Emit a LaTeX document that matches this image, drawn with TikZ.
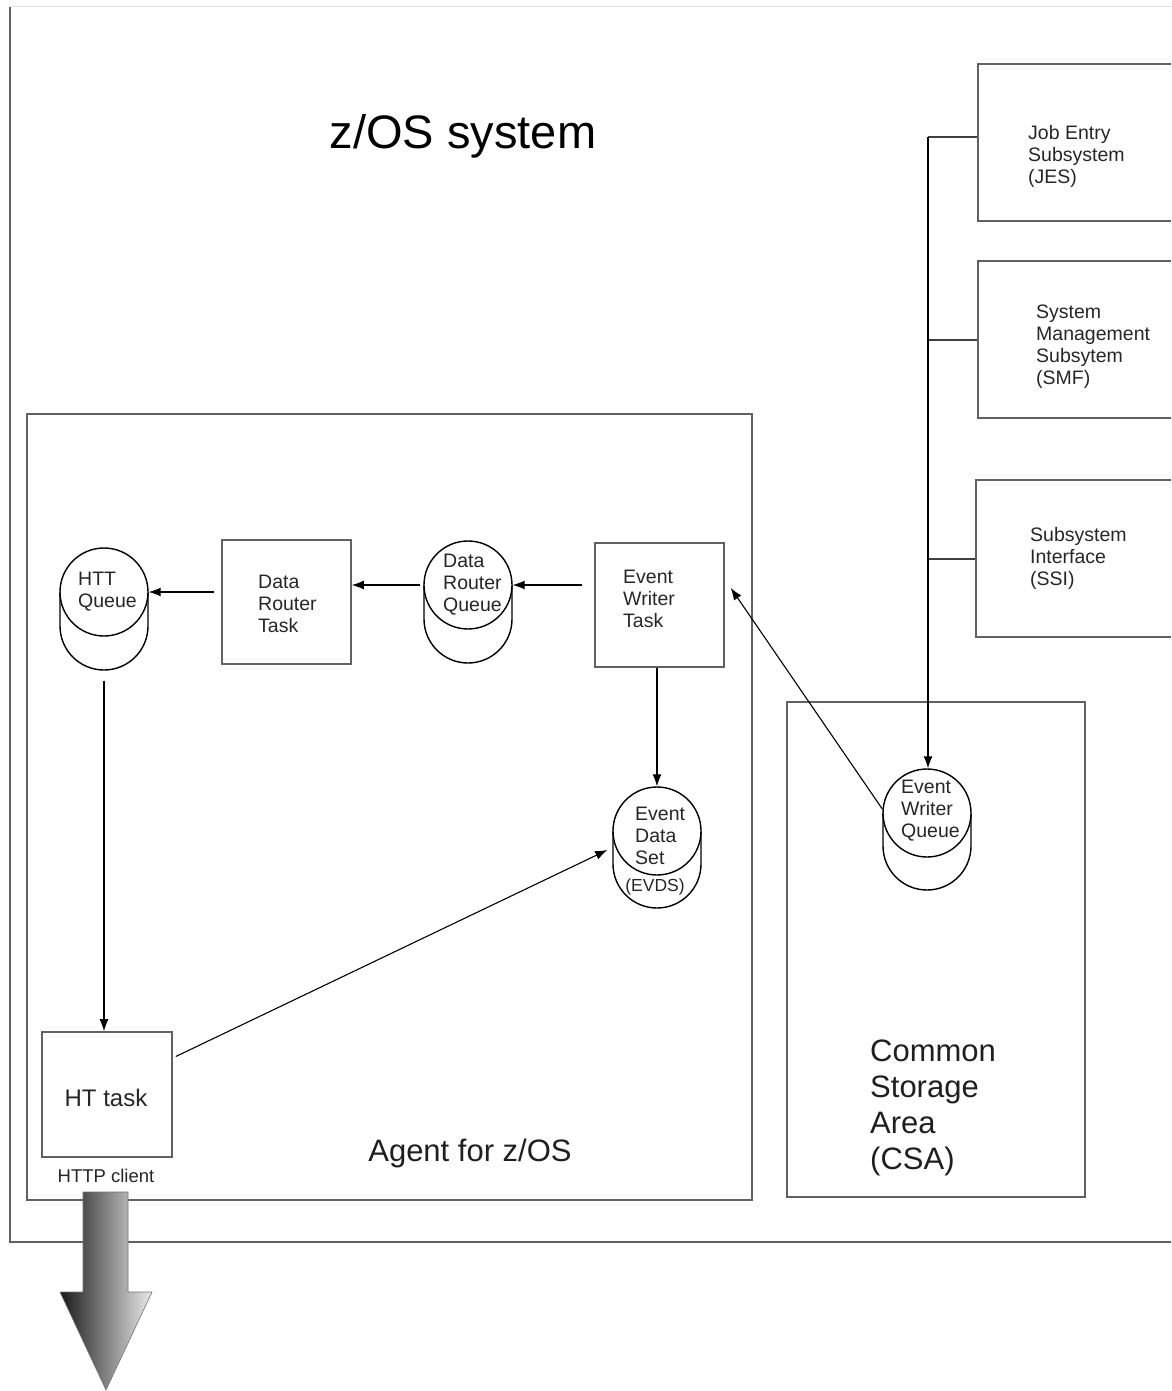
\documentclass[tikz,border=0pt]{standalone}
\usepackage{fontspec}
\setmainfont{Liberation Sans}
\usetikzlibrary{arrows.meta,calc}
\newcommand{\cylbottom}[3]{%
  \draw[cylline] ({#1-44},#2) -- ({#1-44},{#2+#3})
    .. controls ({#1-44},{#2+#3+24.3}) and ({#1-24.3},{#2+#3+44}) .. ({#1},{#2+#3+44})
    .. controls ({#1+24.3},{#2+#3+44}) and ({#1+44},{#2+#3+24.3}) .. ({#1+44},{#2+#3})
    -- ({#1+44},#2);}
\begin{document}
\begin{tikzpicture}[x=1pt,y=-1pt,
  box/.style={rectangle, draw=black!62, line width=1.6pt, inner sep=0pt},
  conn/.style={draw=black, line width=1.1pt, -{Latex[length=12pt,width=9pt]}},
  busline/.style={draw=black!75, line width=1.4pt},
  cylc/.style={circle, draw=black, line width=1.4pt, minimum size=88pt, inner sep=0pt},
  cylline/.style={draw=black, line width=1.4pt},
  lbl/.style={font=\fontsize{19.5}{22}\selectfont, align=left, inner sep=0pt, text=black!85},
  biglbl/.style={font=\fontsize{31}{36}\selectfont, align=left, inner sep=0pt, text=black!88}]
\useasboundingbox (0,0) rectangle (1171,1391);
\clip (0,0) rectangle (1171,1391);
% outer z/OS system box
\draw[black!12, line width=1pt] (10,7) -- (1200,7);
\draw[draw=black!62, line width=1.6pt] (10,7) -- (10,1242) -- (1200,1242);
\node[font=\fontsize{47}{54}\selectfont, inner sep=0pt, anchor=base] (title) at (463,149) {z/OS system};
% subsystem boxes
\node[box, minimum width=222pt, minimum height=157pt] (jes) at (1089,142.5) {};
\node[box, minimum width=222pt, minimum height=157pt] (smf) at (1089,339.5) {};
\node[box, minimum width=224pt, minimum height=157pt] (ssi) at (1088,558.5) {};
\node[lbl, anchor=west] (jest) at (1028,156) {Job Entry\\Subsystem\\(JES)};
\node[lbl, anchor=west] (smft) at (1036,347) {System\\Management\\Subsytem\\(SMF)};
\node[lbl, anchor=west] (ssit) at (1030,558) {Subsystem\\Interface\\(SSI)};
% agent and CSA boxes
\node[box, minimum width=725pt, minimum height=786pt] (agent) at (389.5,807) {};
\node[box, minimum width=298pt, minimum height=495pt] (csa) at (936,949.5) {};
\node[biglbl, anchor=center] (agentt) at (470,1153) {Agent for z/OS};
\node[biglbl, anchor=west] (csat) at (870,1108) {Common\\Storage\\Area\\(CSA)};
% task boxes
\node[box, minimum width=129pt, minimum height=124pt] (drt) at (286.5,602) {};
\node[lbl, anchor=west] (drtt) at (258,604) {Data\\Router\\Task};
\node[box, minimum width=129pt, minimum height=124pt] (ewt) at (659.5,605) {};
\node[lbl, anchor=west] (ewtt) at (623,599) {Event\\Writer\\Task};
\node[box, minimum width=130pt, minimum height=125pt] (ht) at (107,1094.5) {};
\node[font=\fontsize{24}{28}\selectfont, inner sep=0pt, text=black!85] (htt) at (106,1098) {HT task};
\node[font=\fontsize{18.5}{22}\selectfont, inner sep=0pt, text=black!85] (httpc) at (106,1176) {HTTP client};
% cylinders
\cylbottom{104}{592}{34}
\node[cylc, fill=white] (httq) at (104,592) {};
\node[lbl, anchor=west] (httqt) at (78,592) {HTT\\Queue};
\cylbottom{468}{585}{34}
\node[cylc, fill=white] (drq) at (468,585) {};
\node[lbl, anchor=west] (drqt) at (443,585) {Data\\Router\\Queue};
\cylbottom{657}{831}{33}
\node[cylc, fill=white] (eds) at (657,831) {};
\node[lbl, anchor=west] (edst) at (635,836) {Event\\Data\\Set};
\node[font=\fontsize{17.5}{20}\selectfont, inner sep=0pt, text=black!85] (evds) at (655,887) {(EVDS)};
\cylbottom{927}{813}{33}
\node[cylc, fill=white] (ewq) at (927,813) {};
\node[lbl, anchor=west] (ewqt) at (901,811) {Event\\Writer\\Queue};
% bus from subsystems
\coordinate (bus1) at (928,137);
\coordinate (bus2) at (928,340);
\coordinate (bus3) at (928,559);
\draw[busline] (bus1) -- (bus1 -| jes.west);
\draw[busline] (bus2) -- (bus2 -| smf.west);
\draw[busline] (bus3) -- (bus3 -| ssi.west);
\draw[conn] (bus1) -- (bus1 |- ewq.north);
% connectors
\draw[conn] ([xshift=-7pt]httq.east -| drt.west) -- (httq.east);
\draw[conn] ([xshift=-3pt]drq.west) -- (drq.west -| drt.east);
\draw[conn] ([xshift=-12pt]drq.east -| ewt.west) -- (drq.east);
\draw[conn] (ewt.south -| eds.north) -- (eds.north);
\draw[conn] ($(ewq.west)+(0,-4)$) -- ($(ewt.east)+(6,-17)$);
\draw[conn] ($(httq.south)+(0,44)$) -- (httq.south |- ht.north);
\draw[conn] ($(ht.east)+(3,-38)$) -- ($(eds.west)+(-5,19)$);
% big output arrow
\shadedraw[left color=black!90, right color=black!8, draw=black!55, line width=0.6pt]
  (83,1192) -- (128,1192) -- (128,1292) -- (152,1292) -- (106,1390) -- (60,1292) -- (83,1292) -- cycle;
\end{tikzpicture}
\end{document}
